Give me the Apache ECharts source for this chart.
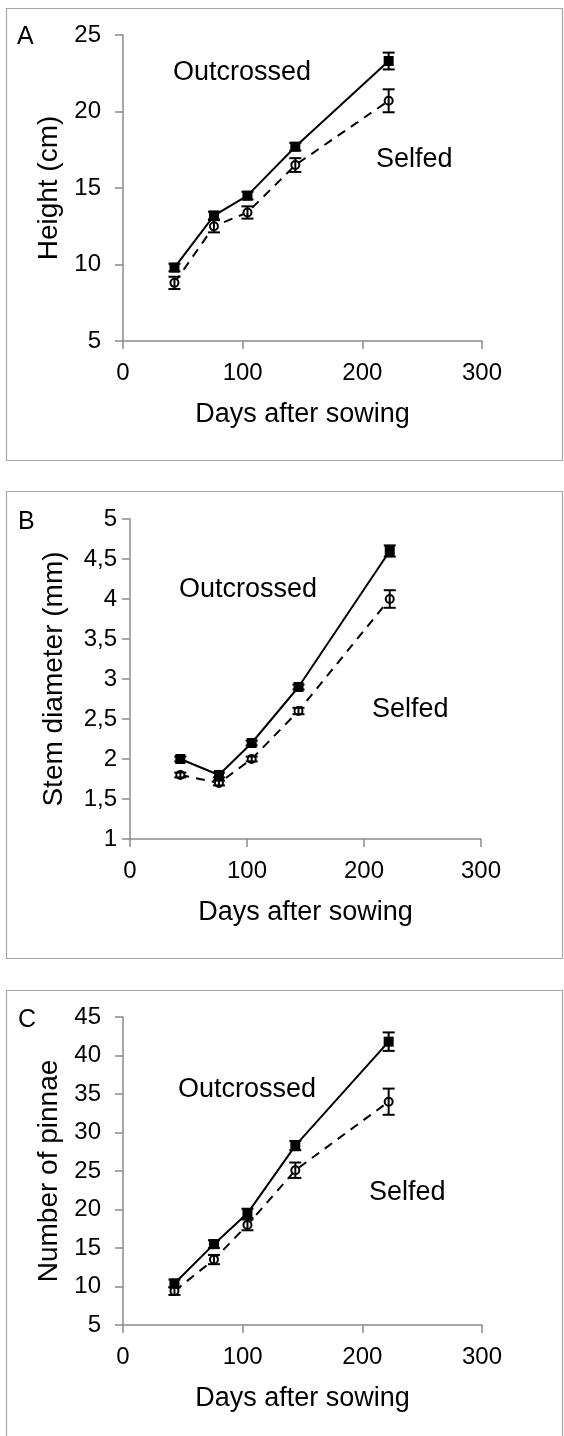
<!DOCTYPE html>
<html>
<head>
<meta charset="utf-8">
<script src="https://cdn.jsdelivr.net/npm/echarts@6/dist/echarts.min.js"></script>
<style>
html,body{margin:0;padding:0;background:#fff;}
#chart{width:564px;height:1436px;}
</style>
</head>
<body>
<div id="chart"></div>
<script>
// ---- Data ----
var days = [43, 76, 104, 144, 222];

var heightOut = [9.8, 13.2, 14.5, 17.7, 23.3];
var heightOutErr = [0.25, 0.25, 0.25, 0.25, 0.55];
var heightSelf = [8.8, 12.5, 13.4, 16.5, 20.7];
var heightSelfErr = [0.4, 0.4, 0.4, 0.45, 0.75];

var stemOut = [2.0, 1.8, 2.2, 2.9, 4.6];
var stemOutErr = [0.03, 0.03, 0.03, 0.03, 0.07];
var stemSelf = [1.8, 1.7, 2.0, 2.6, 4.0];
var stemSelfErr = [0.03, 0.03, 0.03, 0.04, 0.11];

var pinnaeOut = [10.4, 15.5, 19.5, 28.3, 41.8];
var pinnaeOutErr = [0.5, 0.5, 0.6, 0.6, 1.2];
var pinnaeSelf = [9.4, 13.5, 18.0, 25.1, 34.0];
var pinnaeSelfErr = [0.5, 0.6, 0.7, 1.0, 1.7];

var xTicks = [0, 100, 200, 300];
var panelLetters = ['A', 'B', 'C'];
var yTitles = ['Height (cm)', 'Stem diameter (mm)', 'Number of pinnae'];
var xTitle = 'Days after sowing';
var seriesNames = ['Outcrossed', 'Selfed'];

// ---- Build ----
var FONT = 'Liberation Sans, Arial, sans-serif';
var AXIS_COLOR = '#8a8a8a';
var chart = echarts.init(document.getElementById('chart'));

function pairs(xs, ys) { return xs.map(function (x, i) { return [x, ys[i]]; }); }
function errData(xs, ys, es) { return xs.map(function (x, i) { return [x, ys[i] - es[i], ys[i] + es[i]]; }); }

var grids = [
  {left: 123, top: 35, width: 359, height: 306},
  {left: 130, top: 519, width: 351, height: 320},
  {left: 123, top: 1017, width: 359, height: 308}
];
var yRanges = [
  {min: 5, max: 25, interval: 5, margin: 22, gap: 54},
  {min: 1, max: 5, interval: 0.5, margin: 13, gap: 62},
  {min: 5, max: 45, interval: 5, margin: 22, gap: 54}
];

var xAxes = [], yAxes = [], series = [];
var panelData = [
  [heightOut, heightOutErr, heightSelf, heightSelfErr],
  [stemOut, stemOutErr, stemSelf, stemSelfErr],
  [pinnaeOut, pinnaeOutErr, pinnaeSelf, pinnaeSelfErr]
];

function errRender(params, api) {
  var x = api.value(0);
  var lo = api.coord([x, api.value(1)]);
  var hi = api.coord([x, api.value(2)]);
  var hw = 6;
  var st = {stroke: '#000', lineWidth: 2};
  return {
    type: 'group',
    children: [
      {type: 'line', shape: {x1: lo[0], y1: lo[1], x2: hi[0], y2: hi[1]}, style: st},
      {type: 'line', shape: {x1: lo[0] - hw, y1: lo[1], x2: lo[0] + hw, y2: lo[1]}, style: st},
      {type: 'line', shape: {x1: hi[0] - hw, y1: hi[1], x2: hi[0] + hw, y2: hi[1]}, style: st}
    ]
  };
}

for (var p = 0; p < 3; p++) {
  xAxes.push({
    gridIndex: p, type: 'value', min: 0, max: 300, interval: 100,
    name: xTitle, nameLocation: 'middle', nameGap: 60,
    nameTextStyle: {fontFamily: FONT, fontSize: 27, color: '#000'},
    axisLine: {show: true, lineStyle: {color: AXIS_COLOR, width: 1.5}},
    axisTick: {show: true, length: 8, inside: false, lineStyle: {color: AXIS_COLOR, width: 1.5}},
    axisLabel: {fontFamily: FONT, fontSize: 24, color: '#000', margin: 20},
    splitLine: {show: false}
  });
  var yr = yRanges[p];
  yAxes.push({
    gridIndex: p, type: 'value', min: yr.min, max: yr.max, interval: yr.interval,
    name: yTitles[p], nameLocation: 'middle', nameGap: yr.gap,
    nameTextStyle: {fontFamily: FONT, fontSize: 28, color: '#000'},
    axisLine: {show: true, lineStyle: {color: AXIS_COLOR, width: 1.5}},
    axisTick: {show: true, length: 8, inside: false, lineStyle: {color: AXIS_COLOR, width: 1.5}},
    axisLabel: {fontFamily: FONT, fontSize: 24, color: '#000', margin: yr.margin,
      formatter: function (v) { return String(v).replace('.', ','); }},
    splitLine: {show: false}
  });
  var d = panelData[p];
  series.push({
    name: seriesNames[1], type: 'line', xAxisIndex: p, yAxisIndex: p,
    data: pairs(days, d[2]), symbol: 'circle', symbolSize: 8,
    itemStyle: {color: '#fff', borderColor: '#000', borderWidth: 2},
    lineStyle: {color: '#000', width: 2, type: [9, 7]},
    z: 3, animation: false
  });
  series.push({
    type: 'custom', xAxisIndex: p, yAxisIndex: p,
    data: errData(days, d[2], d[3]), renderItem: errRender, z: 4, animation: false,
    encode: {x: 0, y: [1, 2]}
  });
  series.push({
    name: seriesNames[0], type: 'line', xAxisIndex: p, yAxisIndex: p,
    data: pairs(days, d[0]), symbol: 'rect', symbolSize: 10,
    itemStyle: {color: '#000', borderColor: '#000', borderWidth: 0},
    lineStyle: {color: '#000', width: 2, type: 'solid'},
    z: 5, animation: false
  });
  series.push({
    type: 'custom', xAxisIndex: p, yAxisIndex: p,
    data: errData(days, d[0], d[1]), renderItem: errRender, z: 6, animation: false,
    encode: {x: 0, y: [1, 2]}
  });
}

function txt(s, x, y, size) {
  return {type: 'text', silent: true, style: {text: s, x: x, y: y, font: size + 'px ' + FONT,
    fill: '#000', align: 'left', verticalAlign: 'middle', textAlign: 'left', textVerticalAlign: 'middle'}};
}
function box(x, y, w, h) {
  return {type: 'rect', silent: true, shape: {x: x, y: y, width: w, height: h},
    style: {fill: 'none', stroke: '#a6a6a6', lineWidth: 1.2}};
}

var graphics = [
  box(6.5, 8.5, 556, 452),
  box(6.5, 491.5, 556, 467),
  box(6.5, 990.5, 556, 460),
  txt(panelLetters[0], 17, 37, 25),
  txt(panelLetters[1], 18, 522, 25),
  txt(panelLetters[2], 18, 1020, 25),
  txt(seriesNames[0], 173, 73, 27),
  txt(seriesNames[1], 376, 160, 27),
  txt(seriesNames[0], 179, 590, 27),
  txt(seriesNames[1], 372, 710, 27),
  txt(seriesNames[0], 178, 1090, 27),
  txt(seriesNames[1], 369, 1193, 27)
];

chart.setOption({
  animation: false,
  backgroundColor: '#fff',
  grid: grids,
  xAxis: xAxes,
  yAxis: yAxes,
  series: series,
  graphic: graphics
});
</script>
</body>
</html>
